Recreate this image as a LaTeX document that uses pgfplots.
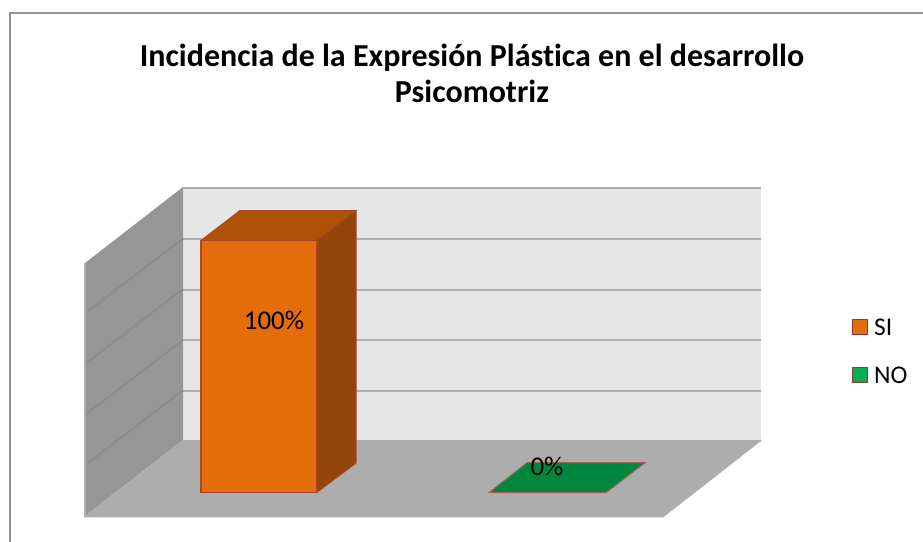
\documentclass[border=0pt]{standalone}
\usepackage{pgfplots}
\pgfplotsset{compat=1.18}
\usepackage{fontspec}
\setmainfont[Ligatures=NoCommon]{Carlito}
\definecolor{backw}{HTML}{E6E6E6}
\definecolor{sidew}{HTML}{969696}
\definecolor{floorc}{HTML}{ADADAD}
\definecolor{gridc}{HTML}{ADADAD}
\definecolor{sidegrid}{HTML}{898989}
\definecolor{framec}{HTML}{949494}
\definecolor{barF}{HTML}{E46C0A}
\definecolor{barT}{HTML}{AE5207}
\definecolor{barS}{HTML}{934607}
\definecolor{barE}{HTML}{A8472A}
\definecolor{grn}{HTML}{00B050}
\definecolor{grnT}{HTML}{00873D}
\definecolor{grnE}{HTML}{A0605A}
\definecolor{legE}{HTML}{953735}
\begin{document}
\begin{tikzpicture}
\useasboundingbox (0,0) rectangle (923pt,541pt);
\begin{axis}[
  at={(0,0)}, anchor=south west,
  width=923pt, height=541pt, scale only axis,
  xmin=0, xmax=923, ymin=0, ymax=541, y dir=reverse,
  hide axis, clip=true,
]
% frame
\addplot[framec, line width=2pt] coordinates {(9.5,560) (9.5,12.5) (940,12.5)};
% walls and floor
\addplot[fill=backw, draw=none] coordinates {(183,187) (761,187) (761,440) (183,440)} --cycle;
\addplot[fill=sidew, draw=none] coordinates {(85,263) (183,187) (183,440) (85,516)} --cycle;
\addplot[fill=floorc, draw=none] coordinates {(85,516) (183,440) (761,440) (663,516)} --cycle;
% grid back wall
\addplot[gridc, line width=2pt] coordinates {(183,187.5) (761,187.5)};
\addplot[gridc, line width=2pt] coordinates {(183,239) (761,239)};
\addplot[gridc, line width=2pt] coordinates {(183,289.5) (761,289.5)};
\addplot[gridc, line width=2pt] coordinates {(183,340) (761,340)};
\addplot[gridc, line width=2pt] coordinates {(183,390.5) (761,390.5)};
\addplot[gridc, line width=2pt] coordinates {(183,440.5) (761,440.5)};
% grid side wall
\addplot[sidegrid, line width=1.2pt] coordinates {(85,313.5) (183,238.5)};
\addplot[sidegrid, line width=1.2pt] coordinates {(85,364) (183,289)};
\addplot[sidegrid, line width=1.2pt] coordinates {(85,415) (183,340)};
\addplot[sidegrid, line width=1.2pt] coordinates {(85,465.5) (183,390)};
% floor edges
\addplot[gridc, line width=1.6pt] coordinates {(85,263) (85,516.5) (663,516.5) (761,440)};
% bar SI = 100%
\addplot[fill=barT, draw=barE, line width=1pt] coordinates {(201,240.5) (240,210.5) (356,210.5) (316.5,240.5)} --cycle;
\addplot[fill=barS, draw=barE, line width=1pt] coordinates {(316.5,240.5) (356,210.5) (356,463) (316.5,492.7)} --cycle;
\addplot[fill=barF, draw=barE, line width=1.5pt] coordinates {(201,240.5) (316.5,240.5) (316.5,492.7) (201,492.7)} --cycle;
% bar NO = 0%
\addplot[fill=grnT, draw=grnE, line width=1pt] coordinates {(489,492.7) (606,492.7) (645,462.7) (527,462.7)} --cycle;
% legend swatches
\addplot[fill=barF, draw=legE, line width=1.5pt] coordinates {(852.5,319.5) (867.5,319.5) (867.5,334.5) (852.5,334.5)} --cycle;
\addplot[fill=grn, draw=legE, line width=1.5pt] coordinates {(852.5,367.5) (867.5,367.5) (867.5,382.5) (852.5,382.5)} --cycle;
% text
\node[anchor=center, align=center, font=\fontsize{32}{36.5}\selectfont\bfseries] at (axis cs:472,73.5) {Incidencia de la Expresión Plástica en el desarrollo\\Psicomotriz};
\node[anchor=center, font=\fontsize{27}{30}\selectfont] at (axis cs:274,320) {100\%};
\node[anchor=center, font=\fontsize{27}{30}\selectfont] at (axis cs:547,466) {0\%};
\node[anchor=west, inner sep=0pt, font=\fontsize{25.5}{30}\selectfont] at (axis cs:874,327) {SI};
\node[anchor=west, inner sep=0pt, font=\fontsize{25.5}{30}\selectfont] at (axis cs:874,375) {NO};
\end{axis}
\end{tikzpicture}
\end{document}
